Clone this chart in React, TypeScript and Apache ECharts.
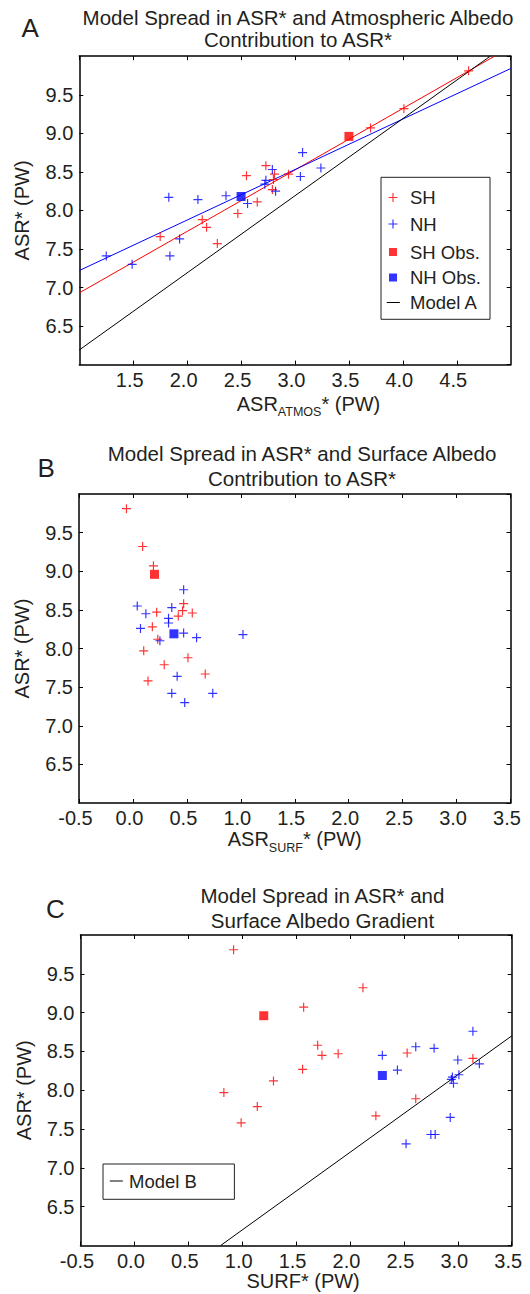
import React, { useEffect, useRef } from "react";
import * as echarts from "echarts";

const FONT = '"Liberation Sans", Arial, Helvetica, sans-serif';
const INK = "#231f20";
const RED = "#ff0000";
const BLUE = "#0000ff";

// ---------- Panel A: ASR_ATMOS* (PW) vs ASR* (PW)
const shAtmos: number[][] = [
  [4.61, 9.81], [4.01, 9.32], [3.7, 9.07], [2.73, 8.58], [2.81, 8.47],
  [2.8, 8.4], [2.94, 8.47], [2.55, 8.45], [2.79, 8.27], [2.65, 8.11],
  [2.47, 7.96], [2.14, 7.88], [2.18, 7.78], [1.75, 7.66], [2.28, 7.57],
];
const nhAtmos: number[][] = [
  [3.07, 8.75], [3.24, 8.55], [3.05, 8.44], [2.79, 8.53], [2.73, 8.39],
  [2.72, 8.34], [2.82, 8.25], [2.56, 8.09], [2.36, 8.19], [2.1, 8.14],
  [1.83, 8.17], [1.93, 7.63], [1.84, 7.41], [1.25, 7.41], [1.49, 7.3],
];
const shObsAtmos: number[][] = [[3.5, 8.96]];
const nhObsAtmos: number[][] = [[2.5, 8.18]];
const shFitAtmos: number[][] = [[1.0, 6.93], [4.85, 10.0]];
const nhFitAtmos: number[][] = [[1.0, 7.22], [5.0, 9.84]];
const modelA: number[][] = [[1.0, 6.19], [4.81, 10.0]];

// ---------- Panel B: ASR_SURF* (PW) vs ASR* (PW)
const shSurf: number[][] = [
  [-0.06, 9.81], [0.09, 9.32], [0.19, 9.07], [0.22, 8.47], [0.47, 8.58],
  [0.46, 8.49], [0.42, 8.42], [0.55, 8.46], [0.18, 8.28], [0.23, 8.12],
  [0.1, 7.97], [0.51, 7.88], [0.29, 7.79], [0.67, 7.67], [0.14, 7.58],
];
const nhSurf: number[][] = [
  [0.47, 8.76], [0.04, 8.55], [0.12, 8.45], [0.36, 8.53], [0.33, 8.39],
  [0.33, 8.33], [0.07, 8.26], [0.47, 8.2], [0.59, 8.14], [1.02, 8.18],
  [0.25, 8.1], [0.41, 7.64], [0.36, 7.42], [0.74, 7.42], [0.48, 7.3],
];
const shObsSurf: number[][] = [[0.2, 8.96]];
const nhObsSurf: number[][] = [[0.38, 8.19]];

// ---------- Panel C: SURF* (PW) vs ASR* (PW)
const shGrad: number[][] = [
  [0.92, 9.81], [2.12, 9.32], [1.57, 9.07], [1.7, 8.58], [1.74, 8.45],
  [1.89, 8.47], [2.53, 8.48], [3.14, 8.41], [1.56, 8.27], [1.29, 8.12],
  [0.83, 7.97], [2.61, 7.89], [1.14, 7.79], [2.24, 7.67], [0.99, 7.58],
];
const nhGrad: number[][] = [
  [3.14, 8.76], [2.61, 8.56], [2.78, 8.54], [2.3, 8.45], [3.0, 8.39],
  [3.2, 8.34], [2.44, 8.26], [3.01, 8.2], [2.94, 8.14], [2.96, 8.09],
  [2.95, 8.17], [2.93, 7.65], [2.75, 7.43], [2.79, 7.43], [2.52, 7.31],
];
const shObsGrad: number[][] = [[1.2, 8.96]];
const nhObsGrad: number[][] = [[2.3, 8.19]];
const modelB: number[][] = [[0.8, 6.0], [3.5, 8.7]];

// ---------- axes ranges
const xRangeA = [1, 5];
const xRangeBC = [-0.5, 3.5];
const yRange = [6, 10];
const tickStep = 0.5;

const titlesA = ["Model Spread in ASR* and Atmospheric Albedo", "Contribution to ASR*"];
const titlesB = ["Model Spread in ASR* and Surface Albedo", "Contribution to ASR*"];
const titlesC = ["Model Spread in ASR* and", "Surface Albedo Gradient"];

const PLUS = "path://M0,4.35H10V5.65H0Z M4.35,0H5.65V10H4.35Z";
const SQUARE = "path://M0,0H10V10H0Z";
const DASH = "path://M0,0H13V1H0Z";

const axisLine = { show: true, onZero: false, lineStyle: { color: "#000", width: 1.5 } };
const axisTick = { show: true, inside: true, length: 4, lineStyle: { color: "#000", width: 1 } };
const fmt = (v: number) => v.toFixed(1);

const subRich = {
  m: { fontSize: 20, fontFamily: FONT, color: INK, lineHeight: 20 },
  s: { fontSize: 12.5, fontFamily: FONT, color: INK, lineHeight: 13, padding: [17, 0, 0, 0] },
};

function xAxes(gridIndex: number, range: number[], hideEnds: boolean, name: string, nameGap: number, namePadLeft: number, rich: boolean) {
  const base = {
    type: "value",
    gridIndex,
    min: range[0],
    max: range[1],
    interval: tickStep,
    splitLine: { show: false },
    axisLine,
    axisTick,
  };
  return [
    {
      ...base,
      position: "bottom",
      axisLabel: {
        show: true,
        fontSize: 20,
        fontFamily: FONT,
        color: INK,
        margin: 5,
        formatter: fmt,
        showMinLabel: !hideEnds,
        showMaxLabel: !hideEnds,
        padding: [0, 7, 0, 0],
      },
      name,
      nameLocation: "middle",
      nameGap,
      nameMoveOverlap: false,
      nameTextStyle: rich
        ? { rich: subRich, padding: [0, 0, 0, namePadLeft], fontSize: 20, fontFamily: FONT, color: INK }
        : { fontSize: 20, fontFamily: FONT, color: INK, lineHeight: 20, padding: [0, 0, 0, namePadLeft] },
    },
    { ...base, position: "top", axisLabel: { show: false } },
  ];
}

function yAxes(gridIndex: number) {
  const base = {
    type: "value",
    gridIndex,
    min: yRange[0],
    max: yRange[1],
    interval: tickStep,
    splitLine: { show: false },
    axisLine,
    axisTick,
  };
  return [
    {
      ...base,
      position: "left",
      axisLabel: {
        show: true,
        fontSize: 20,
        fontFamily: FONT,
        color: INK,
        margin: 6,
        formatter: fmt,
        showMinLabel: false,
        showMaxLabel: false,
      },
      name: "ASR* (PW)",
      nameLocation: "middle",
      nameGap: 47,
      nameMoveOverlap: false,
      nameTextStyle: { fontSize: 20, fontFamily: FONT, color: INK, lineHeight: 20 },
    },
    { ...base, position: "right", axisLabel: { show: false } },
  ];
}

function scatter(name: string, axis: number, data: number[][], color: string, symbol: string, size: number) {
  return {
    type: "scatter",
    name,
    xAxisIndex: axis,
    yAxisIndex: axis,
    data,
    symbol,
    symbolSize: size,
    itemStyle: { color, borderWidth: 0 },
    z: 3,
  };
}

function line(name: string, axis: number, data: number[][], color: string) {
  return {
    type: "line",
    name,
    xAxisIndex: axis,
    yAxisIndex: axis,
    data,
    symbol: "none",
    lineStyle: { color, width: 1 },
    itemStyle: { color },
    z: 2,
  };
}

// one legend entry: icon centred on iconCx, text starting at textX, both centred on cy
function legendItem(name: string, icon: string, iconCx: number, cy: number, iconW: number, iconH: number, textX: number) {
  const left = iconCx - iconW / 2;
  const pad = Math.max(1, textX - (left + iconW + 5));
  return {
    show: true,
    selectedMode: false,
    left,
    top: cy - 10,
    padding: 0,
    itemWidth: iconW,
    itemHeight: iconH,
    itemGap: 0,
    z: 6,
    itemStyle: { borderWidth: 0 },
    data: [{ name, icon }],
    formatter: "{g| }{t|{name}}",
    textStyle: {
      fontSize: 18.5,
      fontFamily: FONT,
      color: INK,
      lineHeight: 20,
      rich: {
        g: { width: pad, fontSize: 18.5, lineHeight: 20 },
        t: { fontSize: 18.5, fontFamily: FONT, color: INK, lineHeight: 20 },
      },
    },
  };
}

function titleText(text: string, x: number, y: number, size: number, align: string) {
  return {
    type: "text",
    z: 10,
    style: {
      text,
      x,
      y,
      fontSize: size,
      fontFamily: FONT,
      fill: INK,
      align,
      textAlign: align,
      verticalAlign: "middle",
      textVerticalAlign: "middle",
    },
  };
}

export default function App() {
  const ref = useRef<HTMLDivElement>(null);
  useEffect(() => {
    if (!ref.current) return;
    const chart = echarts.init(ref.current, null, { renderer: "svg" });
    const option: any = {
      animation: false,
      backgroundColor: "#fff",
      grid: [
        { left: 79.3, top: 56.2, width: 431.4, height: 308.4, outerBoundsMode: "none", containLabel: false },
        { left: 79, top: 494, width: 431.5, height: 309, outerBoundsMode: "none", containLabel: false },
        { left: 80.5, top: 935, width: 431.2, height: 310.5, outerBoundsMode: "none", containLabel: false },
      ],
      xAxis: [
        ...xAxes(0, xRangeA, true, "{m|ASR}{s|ATMOS}{m|* (PW)}", 29, 27, true),
        ...xAxes(1, xRangeBC, false, "{m|ASR}{s|SURF}{m|* (PW)}", 26, 0, true),
        ...xAxes(2, xRangeBC, false, "SURF* (PW)", 25, 14, false),
      ],
      yAxis: [...yAxes(0), ...yAxes(1), ...yAxes(2)],
      legend: [
        legendItem("SH", PLUS, 393, 197.5, 9, 9, 410),
        legendItem("NH", PLUS, 393, 224, 9, 9, 410),
        legendItem("SH Obs.", SQUARE, 393, 252, 8, 8, 410),
        legendItem("NH Obs.", SQUARE, 393, 277.5, 8, 8, 410),
        legendItem("Model A", DASH, 393.3, 302.5, 13, 1, 410),
        legendItem("Model B", DASH, 116.3, 1181, 13, 1, 129),
      ],
      series: [
        // Panel A (axis pair 0 / 0)
        line("SH fit A", 0, shFitAtmos, RED),
        line("NH fit A", 0, nhFitAtmos, BLUE),
        line("Model A", 0, modelA, "#000"),
        scatter("SH", 0, shAtmos, RED, PLUS, 9),
        scatter("NH", 0, nhAtmos, BLUE, PLUS, 9),
        scatter("SH Obs.", 0, shObsAtmos, RED, "rect", 9),
        scatter("NH Obs.", 0, nhObsAtmos, BLUE, "rect", 9),
        // Panel B (axis pair 2 / 2)
        scatter("SH", 2, shSurf, RED, PLUS, 9),
        scatter("NH", 2, nhSurf, BLUE, PLUS, 9),
        scatter("SH Obs.", 2, shObsSurf, RED, "rect", 9),
        scatter("NH Obs.", 2, nhObsSurf, BLUE, "rect", 9),
        // Panel C (axis pair 4 / 4)
        line("Model B", 4, modelB, "#000"),
        scatter("SH", 4, shGrad, RED, PLUS, 9),
        scatter("NH", 4, nhGrad, BLUE, PLUS, 9),
        scatter("SH Obs.", 4, shObsGrad, RED, "rect", 9),
        scatter("NH Obs.", 4, nhObsGrad, BLUE, "rect", 9),
      ],
      graphic: [
        {
          type: "rect",
          z: 5,
          shape: { x: 381, y: 177.3, width: 109, height: 142 },
          style: { fill: "#fff", stroke: "#222", lineWidth: 1 },
        },
        {
          type: "rect",
          z: 5,
          shape: { x: 103, y: 1164, width: 131.4, height: 35.3 },
          style: { fill: "#fff", stroke: "#222", lineWidth: 1 },
        },
        titleText("A", 21.5, 28.2, 26, "left"),
        titleText(titlesA[0], 298, 17, 20.5, "center"),
        titleText(titlesA[1], 298, 39.7, 20.5, "center"),
        titleText("B", 37.5, 467.6, 26, "left"),
        titleText(titlesB[0], 302, 453.5, 20.5, "center"),
        titleText(titlesB[1], 302, 478.5, 20.5, "center"),
        titleText("C", 46, 909, 26, "left"),
        titleText(titlesC[0], 322.5, 895, 20.5, "center"),
        titleText(titlesC[1], 322.5, 920.7, 20.5, "center"),
      ],
    };
    chart.setOption(option);
    return () => chart.dispose();
  }, []);
  return (
    <div
      ref={ref}
      style={{ position: "absolute", left: 0, top: 0, width: 530, height: 1294, background: "#fff" }}
    />
  );
}
